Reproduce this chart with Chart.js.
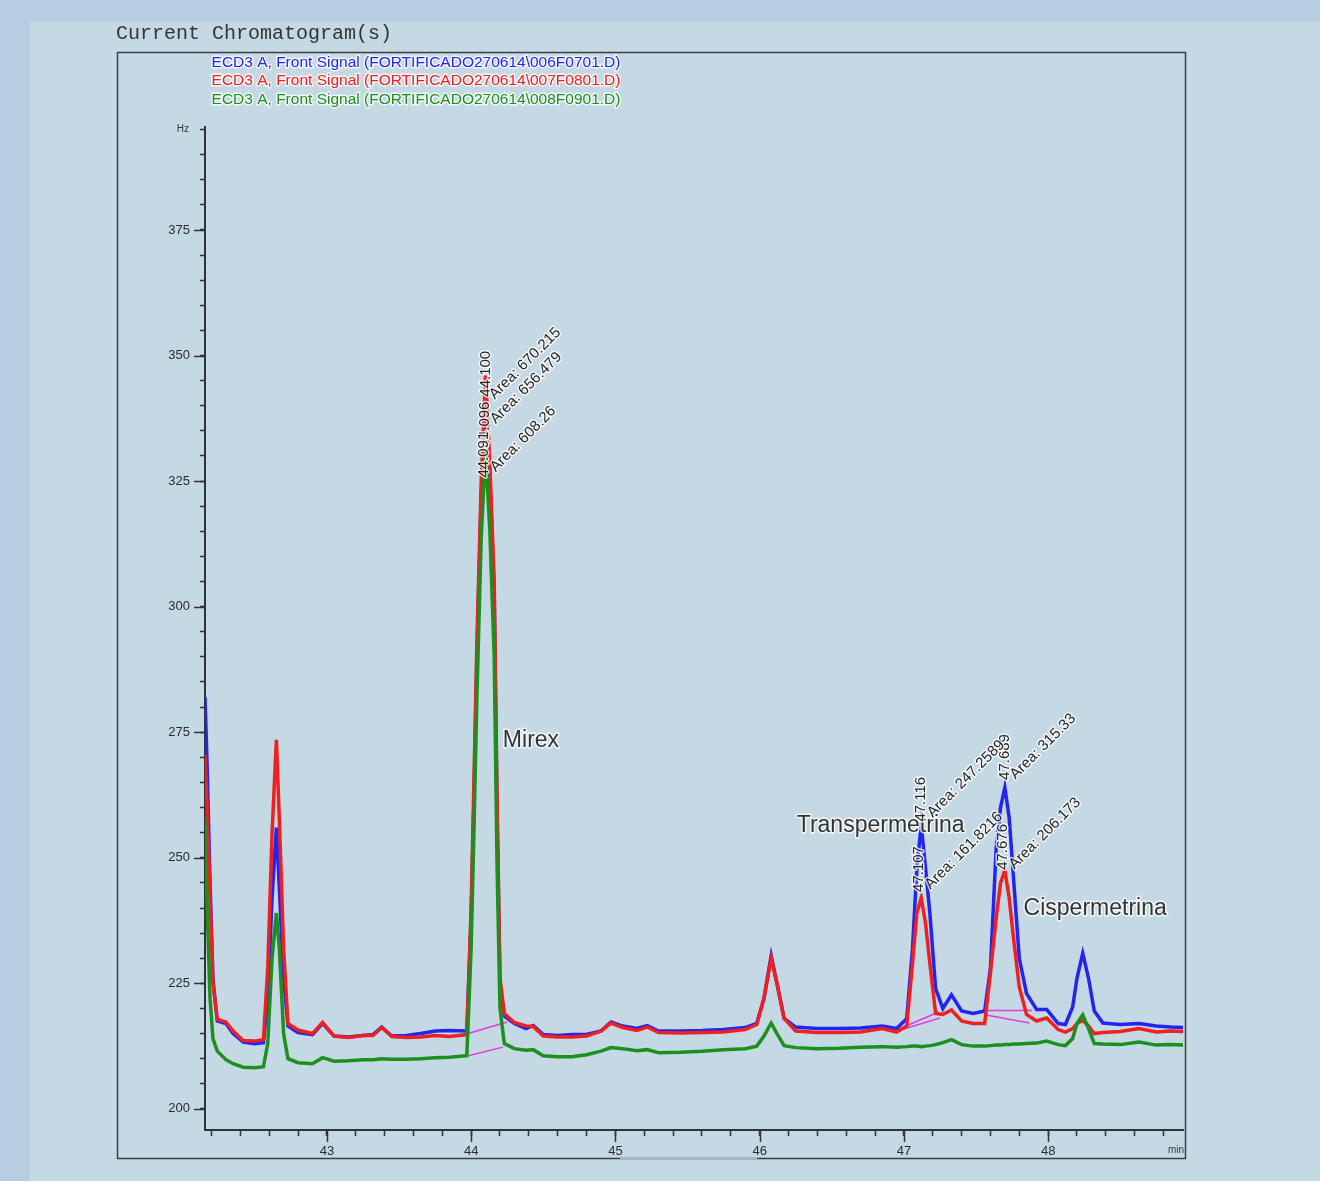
<!DOCTYPE html>
<html lang="es">
<head>
<meta charset="UTF-8" />
<title>Current Chromatogram(s)</title>
<script src="https://cdn.jsdelivr.net/npm/chart.js"></script>
<style>
  body { margin: 0; background: #b7cde1; width: 1320px; height: 1181px; overflow: hidden; }
  .panel { position: absolute; left: 30px; top: 22px; width: 1290px; height: 1159px; background: #c4d9e4; }
  .wrap { position: absolute; left: 0; top: 0; width: 1320px; height: 1181px; }
</style>
</head>
<body>
<div class="panel"></div>
<div class="wrap"><canvas id="chromatogram" width="1320" height="1181"></canvas></div>
<script>
// retention time (min) shared by the three signals
const minutes = [
  42.155, 42.17, 42.19, 42.21, 42.24, 42.3, 42.35, 42.42, 42.5, 42.56,
  42.59, 42.62, 42.65, 42.67, 42.7, 42.73, 42.8, 42.9, 42.97, 43.05,
  43.15, 43.25, 43.32, 43.38, 43.45, 43.55, 43.65, 43.75, 43.85, 43.97,
  44.0, 44.02, 44.04, 44.07, 44.1, 44.13, 44.16, 44.18, 44.2, 44.23,
  44.3, 44.38, 44.43, 44.5, 44.6, 44.7, 44.8, 44.9, 44.97, 45.05,
  45.15, 45.22, 45.3, 45.45, 45.6, 45.75, 45.9, 45.98, 46.03, 46.08,
  46.12, 46.17, 46.25, 46.4, 46.55, 46.7, 46.85, 46.95, 47.02, 47.06,
  47.09, 47.12, 47.15, 47.18, 47.22, 47.27, 47.33, 47.4, 47.48, 47.56,
  47.6, 47.64, 47.67, 47.7, 47.73, 47.76, 47.8, 47.85, 47.92, 47.99,
  48.07, 48.12, 48.17, 48.2, 48.24, 48.28, 48.32, 48.38, 48.5, 48.63,
  48.75, 48.85, 48.935
];

// 006F0701.D
const blueHz = [
  282, 268, 245, 226, 217.5, 217, 215, 213.3, 213, 213.2,
  222, 242, 256, 244, 226, 216.5, 215.2, 214.8, 217, 214.5,
  214.3, 214.6, 214.8, 216.3, 214.5, 214.6, 215, 215.5, 215.6, 215.5,
  238, 262, 290, 322, 343, 326, 302, 258, 225, 218.5,
  217, 216, 216.6, 214.8, 214.6, 214.8, 214.8, 215.5, 217.3, 216.5,
  216, 216.6, 215.5, 215.5, 215.6, 215.8, 216.2, 217, 222, 230.5,
  225, 218, 216.3, 216, 216, 216.1, 216.5, 216, 218, 232,
  248, 256.5, 248, 239, 224, 220, 222.7, 219.5, 219, 219.5,
  228, 252, 260, 264, 258, 246, 230, 223, 219.8, 219.8,
  217, 216.8, 220.3, 226, 231, 226, 219.5, 217.1, 216.8, 217,
  216.5, 216.3, 216.2
];

// 007F0801.D
const redHz = [
  270.5, 260, 242, 225, 217.8, 217.3, 215.5, 213.6, 213.5, 213.8,
  228, 255, 273.5, 258, 232, 217, 215.7, 215, 217.2, 214.5,
  214.2, 214.6, 214.6, 216.2, 214.4, 214.2, 214.3, 214.6, 214.4, 214.8,
  240, 266, 293, 325, 346, 328, 305, 262, 226, 219,
  217.2, 216.5, 216.4, 214.5, 214.3, 214.3, 214.5, 215.5, 217.1, 216.2,
  215.6, 216.3, 215.2, 215.1, 215.2, 215.3, 215.8, 216.8, 222, 230,
  225, 218, 215.5, 215.2, 215.2, 215.3, 216, 215.3, 216.5, 229,
  239, 242, 237, 229, 219, 218.8, 219.7, 217.5, 217, 217,
  227, 238, 245, 247.5, 242, 234, 224.3, 218.8, 217.5, 218.1,
  215.8, 215.3, 216, 217, 217.6, 216.5, 215, 215.2, 215.4, 216,
  215.3, 215.5, 215.4
];

// 008F0901.D
const greenHz = [
  258, 240, 222, 214, 211.5, 209.8, 209, 208.3, 208.2, 208.4,
  213, 230, 239, 232, 215, 210, 209.2, 209, 210.2, 209.5,
  209.6, 209.8, 209.8, 210, 209.9, 209.9, 210, 210.2, 210.3, 210.6,
  232, 256, 282, 314, 331, 315, 290, 248, 220, 213,
  212, 211.7, 211.8, 210.6, 210.4, 210.4, 210.8, 211.5, 212.2, 212,
  211.6, 211.8, 211.2, 211.3, 211.5, 211.8, 212, 212.5, 214.5, 217.1,
  215, 212.6, 212.2, 212, 212.1, 212.3, 212.4, 212.3, 212.4, 212.5,
  212.5, 212.4, 212.5, 212.6, 212.8, 213.2, 213.8, 212.8, 212.5, 212.5,
  212.6, 212.7, 212.7, 212.8, 212.8, 212.9, 212.9, 213, 213.1, 213.5,
  212.8, 212.6, 214, 217, 218.7, 216, 213, 212.9, 212.8, 213.3,
  212.7, 212.8, 212.7
];

// integration baselines (start/end of each)
const baseStartX = [43.98, 43.98, 47.0, 47.0, 47.57, 47.57];
const baseStartY = [215.0, 210.6, 216.3, 215.9, 219.6, 218.7];
const baseEndX = [44.25, 44.22, 47.24, 47.25, 47.89, 47.87];
const baseEndY = [217.3, 212.3, 219.3, 218.1, 219.6, 217.1];

const signalNames = [
  'ECD3 A, Front Signal (FORTIFICADO270614\\006F0701.D)',
  'ECD3 A, Front Signal (FORTIFICADO270614\\007F0801.D)',
  'ECD3 A, Front Signal (FORTIFICADO270614\\008F0901.D)'
];
const signalColors = ['#2424f2', '#f02020', '#1c8f1c'];

// compound names
const peakNames = ['Mirex', 'Transpermetrina', 'Cispermetrina'];
const peakNameX = [44.22, 46.257, 47.83];
const peakNameY = [273.3, 256.4, 239.8];

// retention time labels (vertical)
const rtLabels = ['44.100', '44.096', '44.091', '47.116', '47.107', '47.689', '47.676'];
const rtX = [44.10, 44.095, 44.09, 47.116, 47.102, 47.70, 47.688];
const rtY = [341.8, 331.7, 325.7, 257.2, 243.2, 265.5, 247.6];

// area labels (slanted)
const areaLabels = ['Area: 670.215', 'Area: 656.479', 'Area: 608.26', 'Area: 247.2589',
  'Area: 161.8216', 'Area: 315.33', 'Area: 206.173'];
const areaX = [44.143, 44.15, 44.15, 47.179, 47.165, 47.754, 47.747];
const areaY = [341.8, 336.9, 327.3, 258.5, 244.2, 266.1, 248.2];

const xMin = 42.155, xMax = 48.935;
const yMin = 195.8, yMax = 395.5;

const FONT = 'Arial, "Liberation Sans", sans-serif';

function haloText(ctx, text, x, y, angle) {
  ctx.save();
  ctx.translate(x, y);
  ctx.rotate(angle);
  ctx.lineJoin = 'round';
  ctx.lineWidth = 3;
  ctx.strokeStyle = 'rgba(255,255,255,0.75)';
  ctx.strokeText(text, 0, 0);
  ctx.fillText(text, 0, 0);
  ctx.restore();
}

const decor = {
  id: 'decor',
  beforeDraw(chart) {
    const ctx = chart.ctx;
    ctx.save();
    // frame
    ctx.strokeStyle = '#3d3d3d';
    ctx.lineWidth = 1.5;
    ctx.strokeRect(117.5, 52.5, 1068, 1106);
    ctx.strokeStyle = '#a9bcc6';
    ctx.beginPath();
    ctx.moveTo(620, 1158.5);
    ctx.lineTo(757, 1158.5);
    ctx.stroke();
    // header
    ctx.fillStyle = '#333';
    ctx.font = '20px "Liberation Mono", "DejaVu Sans Mono", monospace';
    ctx.textBaseline = 'middle';
    ctx.textAlign = 'left';
    ctx.fillText('Current Chromatogram(s)', 116, 34);
    // signal names
    ctx.font = '15.5px ' + FONT;
    ctx.textAlign = 'center';
    const rows = [63, 81, 100];
    signalNames.forEach((s, i) => {
      ctx.fillStyle = signalColors[i];
      haloText(ctx, s, 416, rows[i], 0);
    });
    ctx.restore();
  },
  afterDraw(chart) {
    const ctx = chart.ctx;
    const xs = chart.scales.x, ys = chart.scales.y;
    const area = chart.chartArea;
    ctx.save();
    // major ticks
    ctx.strokeStyle = '#333';
    ctx.lineWidth = 1.5;
    ctx.beginPath();
    ys.ticks.forEach(t => {
      if (t.value % 25 === 0) {
        const py = Math.round(ys.getPixelForValue(t.value)) + 0.5;
        ctx.moveTo(area.left - 11, py);
        ctx.lineTo(area.left, py);
      }
    });
    xs.ticks.forEach(t => {
      if (Math.abs(t.value - Math.round(t.value)) < 1e-6) {
        const px = Math.round(xs.getPixelForValue(t.value)) + 0.5;
        ctx.moveTo(px, area.bottom);
        ctx.lineTo(px, area.bottom + 12);
      }
    });
    ctx.stroke();
    // units
    ctx.fillStyle = '#333';
    ctx.font = '10px ' + FONT;
    ctx.textBaseline = 'middle';
    ctx.textAlign = 'right';
    ctx.fillText('Hz', 189, ys.getPixelForValue(395));
    ctx.fillText('min', 1184, area.bottom + 20);
    // compound names
    ctx.font = '23px ' + FONT;
    ctx.textAlign = 'left';
    ctx.fillStyle = '#333';
    peakNames.forEach((n, i) => {
      haloText(ctx, n, xs.getPixelForValue(peakNameX[i]), ys.getPixelForValue(peakNameY[i]), 0);
    });
    // retention times and areas
    ctx.font = '15px ' + FONT;
    ctx.fillStyle = '#262626';
    rtLabels.forEach((n, i) => {
      haloText(ctx, n, xs.getPixelForValue(rtX[i]), ys.getPixelForValue(rtY[i]), -Math.PI / 2);
    });
    areaLabels.forEach((n, i) => {
      haloText(ctx, n, xs.getPixelForValue(areaX[i]), ys.getPixelForValue(areaY[i]), -Math.PI / 4);
    });
    ctx.restore();
  }
};

const traces = [blueHz, redHz, greenHz].map((vals, i) => ({
  label: signalNames[i],
  data: minutes.map((t, k) => ({ x: t, y: vals[k] })),
  borderColor: signalColors[i],
  borderWidth: 3.5,
  pointRadius: 0,
  fill: false,
  order: [2, 1, 0][i]
}));

const baselines = baseStartX.map((x0, i) => ({
  label: 'baseline ' + (i + 1),
  data: [{ x: x0, y: baseStartY[i] }, { x: baseEndX[i], y: baseEndY[i] }],
  borderColor: '#e03ce0',
  borderWidth: 1.5,
  pointRadius: 0,
  fill: false,
  order: 5
}));

new Chart(document.getElementById('chromatogram').getContext('2d'), {
  type: 'line',
  data: { datasets: traces.concat(baselines) },
  options: {
    responsive: false,
    animation: false,
    layout: { padding: { left: 150, top: 127, right: 137, bottom: 21 } },
    plugins: { legend: { display: false }, tooltip: { enabled: false } },
    scales: {
      x: {
        type: 'linear',
        min: xMin,
        max: xMax,
        afterFit: s => { s.height = 30; },
        border: { display: true, color: '#333', width: 2 },
        grid: { drawOnChartArea: false, tickLength: 6, tickColor: '#333', tickWidth: 1.5 },
        ticks: {
          stepSize: 0.2,
          autoSkip: false,
          includeBounds: false,
          maxRotation: 0,
          padding: 8,
          color: '#2b2b2b',
          font: { family: FONT, size: 13 },
          callback: v => Math.abs(v - Math.round(v)) < 1e-6 ? String(Math.round(v)) : ''
        }
      },
      y: {
        type: 'linear',
        min: yMin,
        max: yMax,
        afterFit: s => { s.width = 55; },
        border: { display: true, color: '#333', width: 2 },
        grid: { drawOnChartArea: false, tickLength: 5, tickColor: '#333', tickWidth: 1.5 },
        ticks: {
          stepSize: 5,
          autoSkip: false,
          includeBounds: false,
          padding: 10,
          color: '#2b2b2b',
          font: { family: FONT, size: 13 },
          callback: v => v % 25 === 0 ? String(v) : ''
        }
      }
    }
  },
  plugins: [decor]
});
</script>
</body>
</html>
